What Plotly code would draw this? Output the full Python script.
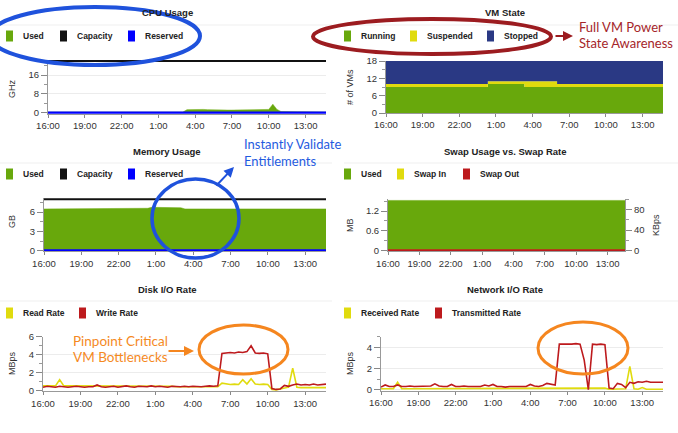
import pandas as pd
import plotly.graph_objects as go

W, H = 678, 433

# ---------------- data (20-minute samples, 16:00 day 1 -> 14:40 day 2) ----------------
cpu_used = [0.4, 0.5, 0.5, 0.4, 0.4, 0.4, 0.3, 0.3, 0.4, 0.4, 0.3, 0.3, 0.4, 0.5, 0.5, 0.4, 0.3,
            0.3, 0.3, 0.4, 0.3, 0.3, 0.3, 0.3, 0.3, 0.4, 0.3, 0.3, 0.3, 0.3, 0.3, 0.3, 0.3, 0.4,
            1.4, 1.5, 1.5, 1.4, 1.5, 1.4, 1.3, 1.3, 1.1, 1.2, 1.2, 1.2, 1.2, 1.3, 1.2, 1.2, 1.2,
            1.2, 1.3, 1.3, 1.5, 3.7, 1.5, 0.6, 0.5, 0.5, 0.5, 0.5, 0.5, 0.5, 0.4, 0.4, 0.4, 0.4, 0.4]
cpu_capacity = 21.9
cpu_reserved = 0.0

vm_running = [9, 9, 9, 9, 9, 9, 9, 9, 9, 9, 9, 9, 9, 9, 9, 9, 9, 9, 9, 9, 9, 9, 9, 9, 9,
              10, 10, 10, 10, 10, 10, 10, 10, 10,
              9, 9, 9, 9, 9, 9, 9, 9, 9, 9, 9, 9, 9, 9, 9, 9, 9, 9, 9, 9, 9, 9, 9, 9, 9, 9, 9,
              9, 9, 9, 9, 9, 9, 9, 9]
vm_suspended = [1, 1, 1, 1, 1, 1, 1, 1, 1, 1, 1, 1, 1, 1, 1, 1, 1, 1, 1, 1, 1, 1, 1, 1, 1,
                1, 1, 1, 1, 1, 1, 1, 1, 1,
                2, 2, 2, 2, 2, 2, 2, 2, 1, 1, 1, 1, 1, 1, 1, 1, 1, 1, 1, 1, 1, 1, 1, 1, 1, 1, 1,
                1, 1, 1, 1, 1, 1, 1, 1]
vm_stopped = [8, 8, 8, 8, 8, 8, 8, 8, 8, 8, 8, 8, 8, 8, 8, 8, 8, 8, 8, 8, 8, 8, 8, 8, 8,
              7, 7, 7, 7, 7, 7, 7, 7, 7,
              7, 7, 7, 7, 7, 7, 7, 7, 8, 8, 8, 8, 8, 8, 8, 8, 8, 8, 8, 8, 8, 8, 8, 8, 8, 8, 8,
              8, 8, 8, 8, 8, 8, 8, 8]

mem_used = [6.5, 6.5, 6.5, 6.5, 6.5, 6.5, 6.5, 6.5, 6.5, 6.5, 6.5, 6.5, 6.5, 6.5, 6.5, 6.5, 6.5,
            6.5, 6.5, 6.5, 6.5, 6.5, 6.5, 6.5, 6.55, 6.6, 6.75, 6.75, 6.72, 6.72, 6.7, 6.7, 6.7,
            6.68, 6.5, 6.48, 6.48, 6.48, 6.5, 6.5, 6.5, 6.5, 6.48, 6.48, 6.48, 6.48, 6.48, 6.48,
            6.48, 6.48, 6.48, 6.48, 6.48, 6.48, 6.48, 6.48, 6.48, 6.48, 6.48, 6.48, 6.48, 6.48,
            6.5, 6.5, 6.5, 6.5, 6.5, 6.5, 6.5]
mem_capacity = 8.0
mem_reserved = 0.0

swap_used_mb = 1.52
swap_in_kbps = 0.0
swap_out_kbps = 0.0

disk_read = [0.5, 0.5, 0.45, 0.5, 1.2, 0.5, 0.5, 0.5, 0.45, 0.5, 0.5, 0.45, 0.5, 0.5, 0.5, 0.45,
             0.5, 0.5, 0.5, 0.45, 0.5, 0.5, 0.5, 0.45, 0.5, 0.5, 0.45, 0.5, 0.5, 0.45, 0.5, 0.45,
             0.4, 0.4, 0.4, 0.4, 0.4, 0.35, 0.35, 0.4, 0.4, 0.35, 0.4, 0.8, 0.7, 0.65, 0.7, 0.65,
             1.2, 0.7, 1.3, 0.7, 0.65, 0.7, 0.65, 0.1, 0.05, 0.15, 0.3, 0.35, 2.5, 0.35, 0.3, 0.3,
             0.25, 0.3, 0.3, 0.3, 0.3]
disk_write = [0.35, 0.45, 0.4, 0.35, 0.45, 0.4, 0.35, 0.4, 0.45, 0.4, 0.35, 0.4, 0.4, 0.6, 0.4,
              0.35, 0.4, 0.45, 0.35, 0.4, 0.5, 0.4, 0.35, 0.45, 0.4, 0.4, 0.5, 0.4, 0.45, 0.4,
              0.35, 0.45, 0.4, 0.4, 0.45, 0.4, 0.45, 0.4, 0.4, 0.45, 0.5, 0.45, 0.5, 4.15, 4.2,
              4.25, 4.2, 4.3, 4.25, 4.35, 5.0, 4.2, 4.15, 4.2, 4.1, 0.2, 0.1, 0.15, 0.55, 0.45,
              0.6, 0.7, 0.6, 0.65, 0.6, 0.7, 0.6, 0.65, 0.7]

net_received = [0.1, 0.1, 0.1, 0.1, 0.7, 0.1, 0.1, 0.1, 0.08, 0.1, 0.1, 0.08, 0.1, 0.1, 0.1,
                0.08, 0.1, 0.1, 0.1, 0.08, 0.1, 0.1, 0.1, 0.08, 0.1, 0.1, 0.08, 0.1, 0.1, 0.08,
                0.1, 0.08, 0.1, 0.1, 0.08, 0.1, 0.1, 0.08, 0.1, 0.1, 0.12, 0.15, 0.12, 0.15, 0.15,
                0.15, 0.15, 0.15, 0.15, 0.15, 0.15, 0.15, 0.15, 0.15, 0.15, 0.05, 0.05, 0.05,
                0.05, 0.1, 2.2, 0.1, 0.05, 0.2, 0.05, 0.05, 0.05, 0.05, 0.05]
net_transmitted = [0.25, 0.45, 0.3, 0.3, 0.45, 0.3, 0.3, 0.35, 0.3, 0.3, 0.35, 0.3, 0.35, 0.55,
                   0.35, 0.3, 0.3, 0.5, 0.3, 0.3, 0.35, 0.3, 0.3, 0.35, 0.3, 0.45, 0.35, 0.5,
                   0.3, 0.3, 0.25, 0.3, 0.3, 0.3, 0.35, 0.3, 0.5, 0.35, 0.3, 0.4, 0.6, 0.5, 0.45,
                   4.3, 4.3, 4.25, 4.3, 4.35, 4.3, 2.8, 0.0, 4.3, 4.25, 4.3, 4.25, 0.15, 0.1, 0.6,
                   0.5, 0.2, 0.7, 0.6, 0.75, 0.7, 0.8, 0.7, 0.7, 0.7, 0.7]

tick_times = ["2024-01-01 16:00", "2024-01-01 19:00", "2024-01-01 22:00", "2024-01-02 01:00",
              "2024-01-02 04:00", "2024-01-02 07:00", "2024-01-02 10:00", "2024-01-02 13:00"]
tick_labels = ["16:00", "19:00", "22:00", "1:00", "4:00", "7:00", "10:00", "13:00"]

times = pd.date_range("2024-01-01 16:00", periods=len(cpu_used), freq="20min")
n = len(times)

GREEN = "#68a80c"
YELLOW = "#e0db0e"
NAVY = "#2a3984"
RED = "#bd1a1d"
BLUE = "#0000ff"
BLACK = "#111111"

FONT = "Liberation Sans, Arial, sans-serif"


def px_x(p):
    return p / W


def px_y(p):
    return 1 - p / H


fig = go.Figure()

# ---------------- traces ----------------
# CPU
fig.add_trace(go.Scatter(x=times, y=cpu_used, fill="tozeroy", mode="lines", line=dict(width=0.5, color=GREEN),
                         fillcolor=GREEN, xaxis="x", yaxis="y"))
fig.add_trace(go.Scatter(x=times, y=[cpu_capacity] * n, mode="lines", line=dict(width=2, color=BLACK),
                         xaxis="x", yaxis="y"))
fig.add_trace(go.Scatter(x=times, y=[cpu_reserved] * n, mode="lines", line=dict(width=3, color=BLUE),
                         xaxis="x", yaxis="y"))
# VM state
for vals, col in [(vm_running, GREEN), (vm_suspended, YELLOW), (vm_stopped, NAVY)]:
    fig.add_trace(go.Scatter(x=times, y=vals, stackgroup="vm", mode="lines", line=dict(width=0, shape="hv", color=col),
                             fillcolor=col, xaxis="x2", yaxis="y2"))
# Memory
fig.add_trace(go.Scatter(x=times, y=mem_used, fill="tozeroy", mode="lines", line=dict(width=0.5, color=GREEN),
                         fillcolor=GREEN, xaxis="x3", yaxis="y3"))
fig.add_trace(go.Scatter(x=times, y=[mem_capacity] * n, mode="lines", line=dict(width=2, color=BLACK),
                         xaxis="x3", yaxis="y3"))
fig.add_trace(go.Scatter(x=times, y=[mem_reserved] * n, mode="lines", line=dict(width=3, color=BLUE),
                         xaxis="x3", yaxis="y3"))
# Swap
fig.add_trace(go.Scatter(x=times, y=[swap_used_mb] * n, fill="tozeroy", mode="lines", line=dict(width=0.5, color=GREEN),
                         fillcolor=GREEN, xaxis="x4", yaxis="y4"))
fig.add_trace(go.Scatter(x=times, y=[swap_in_kbps] * n, mode="lines", line=dict(width=2, color=YELLOW),
                         xaxis="x4", yaxis="y7"))
fig.add_trace(go.Scatter(x=times, y=[swap_out_kbps] * n, mode="lines", line=dict(width=3, color=RED),
                         xaxis="x4", yaxis="y7"))
# Disk
fig.add_trace(go.Scatter(x=times, y=disk_read, mode="lines", line=dict(width=1.6, color=YELLOW),
                         xaxis="x5", yaxis="y5"))
fig.add_trace(go.Scatter(x=times, y=disk_write, mode="lines", line=dict(width=1.6, color=RED),
                         xaxis="x5", yaxis="y5"))
# Network
fig.add_trace(go.Scatter(x=times, y=net_received, mode="lines", line=dict(width=1.6, color=YELLOW),
                         xaxis="x6", yaxis="y6"))
fig.add_trace(go.Scatter(x=times, y=net_transmitted, mode="lines", line=dict(width=1.6, color=RED),
                         xaxis="x6", yaxis="y6"))

# ---------------- axes ----------------
tick_font = dict(family=FONT, size=9.5, color="#333333")
xr = [times[0], times[-1]]


def xaxis(l, r, anchor):
    return dict(domain=[px_x(l), px_x(r)], anchor=anchor, type="date", range=xr, automargin=False,
                tickmode="array", tickvals=tick_times, ticktext=tick_labels,
                ticks="outside", ticklen=3, tickcolor="#888", showline=True, linecolor="#999",
                showgrid=False, zeroline=False, tickfont=tick_font)


def yaxis(top, bottom, rng, dtick, anchor, side="left", overlaying=None, grid=True):
    d = dict(domain=[px_y(bottom), px_y(top)], anchor=anchor, range=rng, tick0=0, dtick=dtick, automargin=False,
             ticks="outside", ticklen=6, tickcolor="#888", showline=True, linecolor="#999",
             showgrid=grid, gridcolor="#ececec", zeroline=False, tickfont=tick_font, side=side,
             minor=dict(ticks="outside", ticklen=3, dtick=dtick / 2, tickcolor="#999", showgrid=False))
    if overlaying:
        d["overlaying"] = overlaying
    return d


layout = dict(
    width=W, height=H, margin=dict(l=0, r=0, t=0, b=0, pad=0, autoexpand=False),
    paper_bgcolor="white", plot_bgcolor="white", showlegend=False,
    xaxis=xaxis(48, 326, "y"), yaxis=yaxis(59.6, 113.8, [-0.35, 22.5], 8, "x"),
    xaxis2=xaxis(386, 663, "y2"), yaxis2=yaxis(61, 113, [0, 18], 6, "x2"),
    xaxis3=xaxis(44, 326, "y3"), yaxis3=yaxis(198, 251.3, [-0.1, 8.2], 3, "x3"),
    xaxis4=xaxis(388, 625, "y4"), yaxis4=yaxis(199.1, 251.4, [-0.02, 1.56], 0.6, "x4"),
    xaxis5=xaxis(43, 326, "y5"), yaxis5=yaxis(336.5, 391.2, [-0.1, 6.05], 2, "x5"),
    xaxis6=xaxis(381, 663, "y6"), yaxis6=yaxis(336.7, 390.8, [-0.1, 5.0], 2, "x6"),
    yaxis7=yaxis(199.1, 251.4, [-1.35, 100], 40, "x4", side="right", overlaying="y4", grid=False),
)
fig.update_layout(**layout)

annotations = []
shapes = []


def text(x, y, s, size=9, color="#222", bold=False, anchor="center", angle=0, family=FONT):
    annotations.append(dict(x=px_x(x), y=px_y(y), xref="paper", yref="paper", text=("<b>%s</b>" % s) if bold else s,
                            showarrow=False, xanchor=anchor, yanchor="middle", textangle=angle,
                            font=dict(family=family, size=size, color=color)))


# faint separators
for y in (25, 163, 301):
    for (a, b) in ((0, 332), (344, 678)):
        shapes.append(dict(type="line", xref="paper", yref="paper", x0=px_x(a), x1=px_x(b), y0=px_y(y), y1=px_y(y),
                           line=dict(color="#efefef", width=1)))

# titles
titles = [("CPU Usage", 167, 12), ("VM State", 505, 12), ("Memory Usage", 167, 151),
          ("Swap Usage vs. Swap Rate", 505, 151), ("Disk I/O Rate", 167, 289), ("Network I/O Rate", 505, 289)]
for t, x, y in titles:
    text(x, y, t, size=9.5, bold=True)

# legends
legends = [
    (36, [(6, GREEN, "Used"), (60, BLACK, "Capacity"), (128, BLUE, "Reserved")]),
    (36, [(344, GREEN, "Running"), (410, YELLOW, "Suspended"), (487, NAVY, "Stopped")]),
    (174, [(6, GREEN, "Used"), (60, BLACK, "Capacity"), (128, BLUE, "Reserved")]),
    (174, [(344, GREEN, "Used"), (397, YELLOW, "Swap In"), (463, RED, "Swap Out")]),
    (313, [(6, YELLOW, "Read Rate"), (79, RED, "Write Rate")]),
    (313, [(344, YELLOW, "Received Rate"), (435, RED, "Transmitted Rate")]),
]
for y, items in legends:
    for x, col, lab in items:
        shapes.append(dict(type="rect", xref="paper", yref="paper", x0=px_x(x), x1=px_x(x + 7),
                           y0=px_y(y + 5.5), y1=px_y(y - 5.5), fillcolor=col, line=dict(width=0)))
        text(x + 15, y, lab, size=8.5, bold=True, anchor="left")

# y axis titles
for s, x, y in [("GHz", 12, 89), ("# of VMs", 350, 87), ("GB", 12, 222), ("MB", 350, 225),
                ("KBps", 656, 225), ("MBps", 12, 363), ("MBps", 350, 363)]:
    text(x, y, s, size=9, color="#333", angle=-90)

# callout ellipses
ANN = "Lato, Open Sans, sans-serif"
for (x0, x1, y0, y1, col, w) in [(-10, 200, 7, 65, "#1f52dc", 4), (313, 551, 19, 54, "#9c1c20", 4),
                                 (152, 239, 179, 258, "#1f52dc", 3.5), (199, 288, 325, 374, "#f5861f", 3),
                                 (538, 628, 322, 374, "#f5861f", 3)]:
    shapes.append(dict(type="circle", xref="paper", yref="paper", x0=px_x(x0), x1=px_x(x1),
                       y0=px_y(y1), y1=px_y(y0), line=dict(color=col, width=w), layer="above"))

# callout texts
text(577, 27, "Full VM Power", size=13, color="#a5252a", anchor="left", family=ANN)
text(577, 43, "State Awareness", size=13, color="#a5252a", anchor="left", family=ANN)
text(242, 144, "Instantly Validate", size=13, color="#1f5be0", anchor="left", family=ANN)
text(242, 161, "Entitlements", size=13, color="#1f5be0", anchor="left", family=ANN)
text(71, 341, "Pinpoint Critical", size=13.5, color="#f58a1f", anchor="left", family=ANN)
text(71, 357, "VM Bottlenecks", size=13.5, color="#f58a1f", anchor="left", family=ANN)

# arrows
for (hx, hy, tx, ty, col) in [(573, 36, 554, 36, "#9c1c20"), (234, 167, 215, 187, "#1f52dc"),
                              (194, 351, 167, 351, "#f5861f")]:
    annotations.append(dict(x=px_x(hx), y=px_y(hy), xref="paper", yref="paper", ax=tx - hx, ay=ty - hy,
                            axref="pixel", ayref="pixel", text="", showarrow=True, arrowhead=2,
                            arrowsize=1, arrowwidth=2, arrowcolor=col))

fig.update_layout(annotations=annotations, shapes=shapes)
fig.write_html("out.html")
